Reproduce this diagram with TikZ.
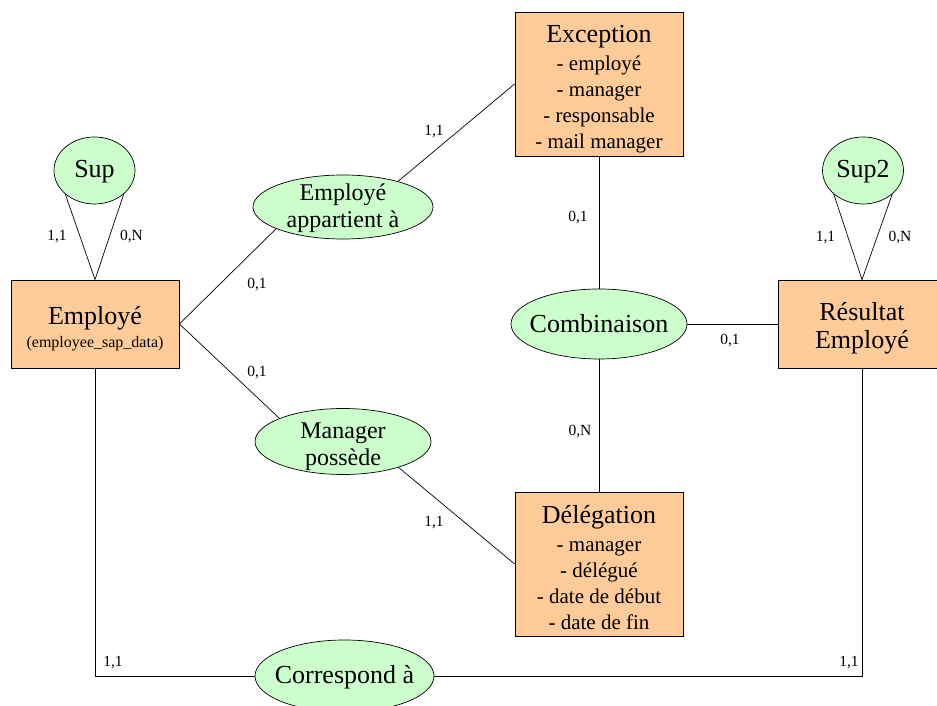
\documentclass[tikz,border=0pt]{standalone}
\usepackage{fontspec}
\setmainfont{Liberation Serif}
\usetikzlibrary{shapes.geometric}
\tikzset{>=latex}
\definecolor{entcol}{RGB}{255,204,153}
\definecolor{relcol}{RGB}{204,255,204}
\newcommand\titlefont{\fontsize{26}{30}\selectfont}
\tikzset{
  entity/.style={draw,fill=entcol,line width=0.8pt,rectangle,
    minimum width=168,minimum height=144,inner sep=0pt},
  assoc/.style={draw,fill=relcol,line width=0.7pt,ellipse,inner sep=0pt},
  enttxt/.style={align=center,inner sep=0pt,font=\fontsize{21}{26}\selectfont},
  reltxt/.style={align=center,inner sep=0pt,font=\fontsize{24}{27}\selectfont},
  bigtxt/.style={align=center,inner sep=0pt,font=\titlefont},
  link/.style={line width=0.7pt},
  card/.style={inner sep=0pt,font=\fontsize{15.5}{18}\selectfont},
}

\begin{document}
\begin{tikzpicture}[x=1pt,y=1pt]
  \useasboundingbox (0,0) rectangle (937,706);

  % ENTITIES
  \node[entity,minimum height=88,
    label={[bigtxt,yshift=-5pt]center:{Employé\\[-7pt]{\fontsize{16}{19}\selectfont(employee\_sap\_data)}}}]
    (emp) at (95,382) {};
  \node[entity,minimum height=88,
    label={[bigtxt,yshift=-4pt]center:{Résultat\\[-2pt]Employé}}]
    (res) at (862,382) {};
  \node[entity,
    label={[enttxt,yshift=-5pt]center:{{\titlefont Exception}\\[2pt]- employé\\- manager\\- responsable\\- mail manager}}]
    (exc) at (599,622) {};
  \node[entity,
    label={[enttxt,yshift=-4pt]center:{{\titlefont Délégation}\\[2pt]- manager\\- délégué\\- date de début\\- date de fin}}]
    (del) at (599,142) {};

  % ASSOCIATIONS
  \node[assoc,minimum width=81,minimum height=67,
    label={[bigtxt,yshift=-1pt]center:Sup}] (sup) at (94.5,535.5) {};
  \node[assoc,minimum width=81,minimum height=67,
    label={[bigtxt,yshift=-1pt]center:Sup2}] (sup2) at (863,535.5) {};
  \node[assoc,minimum width=180,minimum height=64,
    label={[reltxt,yshift=-1pt]center:{Employé\\appartient à}}] (app) at (343,499) {};
  \node[assoc,minimum width=176,minimum height=66,
    label={[reltxt,yshift=-5pt]center:{Manager\\possède}}] (mgr) at (343,264.5) {};
  \node[assoc,minimum width=176,minimum height=70,
    label={[bigtxt]center:Combinaison}] (comb) at (599,382) {};
  \node[assoc,minimum width=179,minimum height=72,
    label={[bigtxt,yshift=-1pt]center:{Correspond à}}] (corr) at (344.5,30) {};

  % PATHS
  \draw[link] (sup.219) -- (emp.north) -- (sup.-39);
  \draw[link] (sup2.219) -- (res.north) -- (sup2.-39);
  \draw[link] (emp.east) -- (app.198);
  \draw[link] (app.25) -- (exc.west);
  \draw[link] (emp.east) -- (mgr.160);
  \draw[link] (mgr.-25) -- (del.west);
  \draw[link] (exc.south) -- (comb.north);
  \draw[link] (comb.south) -- (del.north);
  \draw[link] (comb.east) -- (res.west);
  \draw[link] (emp.south) |- (corr.west);
  \draw[link] (corr.east) -| (res.south);

  % CARDINALITIES
  \node[card] (c1) at (57,469) {1,1};
  \node[card] (c2) at (131.5,469) {0,N};
  \node[card] (c3) at (825.5,468) {1,1};
  \node[card] (c4) at (900,468) {0,N};
  \node[card] (c5) at (257,421) {0,1};
  \node[card] (c6) at (257,333) {0,1};
  \node[card] (c7) at (434,574) {1,1};
  \node[card] (c8) at (434,183) {1,1};
  \node[card] (c9) at (578,488) {0,1};
  \node[card] (c10) at (580,274) {0,N};
  \node[card] (c11) at (730,365) {0,1};
  \node[card] (c12) at (113,43) {1,1};
  \node[card] (c13) at (849,43) {1,1};
\end{tikzpicture}
\end{document}
